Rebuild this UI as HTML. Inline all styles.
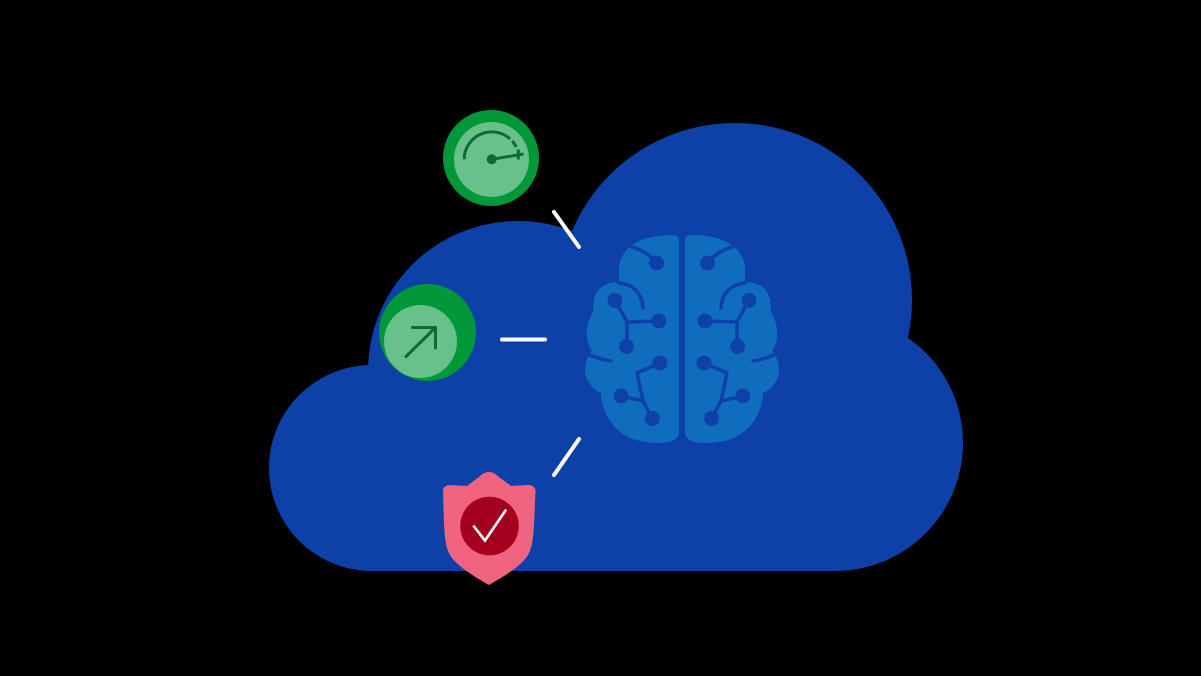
<!DOCTYPE html>
<html>
<head>
<meta charset="utf-8">
<style>
  html,body{margin:0;padding:0;background:#000;}
  body{width:1201px;height:676px;overflow:hidden;}
  svg{display:block;}
</style>
</head>
<body>
<svg width="1201" height="676" viewBox="0 0 1201 676" xmlns="http://www.w3.org/2000/svg">
  <rect width="1201" height="676" fill="#000"/>

  <!-- Cloud -->
  <g fill="#0E41A8">
    <circle cx="372" cy="468" r="103"/>
    <circle cx="518" cy="371" r="150"/>
    <circle cx="735" cy="300" r="177"/>
    <circle cx="835" cy="443" r="128"/>
    <rect x="372" y="371" width="150" height="200"/>
    <rect x="518" y="300" width="317" height="271"/>
  </g>

  <!-- Brain -->
  <defs>
    <g id="hemi">
      <path fill="#106DBD" d="M679,241 C679,237 677,235 672,235 C660,235 645,237 634,244 C625,250 619,258 619,270 L619,282 C606,282 596,288 594,300 L593,312 C588,320 586,330 587,338 C588,344 590,348 592,351 C587,356 585,363 585,370 C585,380 592,389 601,393 C601,410 612,428 625,435 C632,440 645,443 660,443 C670,443 679,440 679,432 Z"/>
      <g stroke="#0E41A8" stroke-width="3.5" fill="none" stroke-linecap="round" stroke-linejoin="round">
        <path d="M632,247 C640,249 650,255 657,263"/>
        <path d="M619,283 C632,284 642,292 643,308"/>
        <path d="M615,300 L627,322 L659,321"/>
        <path d="M627,322 L627,347"/>
        <path d="M590,355 C597,358 604,360 611,361"/>
        <path d="M660,363 L637,373 L643,401 L652,418"/>
        <path d="M621,396 L643,401"/>
      </g>
      <g fill="#0E41A8">
        <circle cx="656.5" cy="263" r="7.5"/>
        <circle cx="615" cy="300.5" r="7.5"/>
        <circle cx="659" cy="321" r="7.5"/>
        <circle cx="626.5" cy="346.5" r="7.5"/>
        <circle cx="660" cy="363" r="7.5"/>
        <circle cx="621" cy="396" r="7.5"/>
        <circle cx="652.5" cy="418.5" r="7.5"/>
      </g>
    </g>
  </defs>
  <use href="#hemi"/>
  <use href="#hemi" transform="translate(1364,0) scale(-1,1)"/>

  <!-- Connector lines -->
  <g stroke="#fff" stroke-width="4" stroke-linecap="round" fill="none">
    <line x1="554" y1="212" x2="579" y2="247"/>
    <line x1="502" y1="339.5" x2="545" y2="339.5"/>
    <line x1="579" y1="439" x2="554" y2="475"/>
  </g>

  <!-- Gauge circle -->
  <circle cx="491" cy="158" r="48" fill="#009838"/>
  <circle cx="491.5" cy="159.5" r="37.5" fill="#68C18B"/>
  <g stroke="#0B6B34" stroke-width="3" fill="none" stroke-linecap="butt">
    <path d="M464.2,159.3 A27.5,27.5 0 0 1 510.1,138.9"/>
    <path d="M512.3,140.9 A27.5,27.5 0 0 1 516.2,147"/>
    <line x1="491.7" y1="159.3" x2="523.5" y2="154"/>
    <line x1="518.3" y1="149.5" x2="518.3" y2="159.5"/>
  </g>
  <circle cx="491.7" cy="159.3" r="5" fill="#0B6B34"/>

  <!-- Arrow circle -->
  <circle cx="427.5" cy="332.5" r="48.5" fill="#009838"/>
  <circle cx="420.5" cy="341.5" r="36.5" fill="#68C18B"/>
  <g stroke="#0B6B34" stroke-width="3" fill="none" stroke-linecap="round" stroke-linejoin="round">
    <line x1="406" y1="356.5" x2="434.5" y2="328.5"/>
    <path d="M412.5,327.5 L435.5,327.5 L435.5,348"/>
  </g>

  <!-- Shield -->
  <path fill="#F0647F" d="M489,472 C485,472 482,474 479,477 L467,486 L450,485 C446,485 443,487 443,491 L444,525 C445,540 446,550 452,558 C460,568 475,577 489,585 C503,577 518,568 526,558 C532,550 533,540 534,525 L535.5,491 C535.5,487 532,485 528,485 L511,486 L499,477 C496,474 493,472 489,472 Z"/>
  <circle cx="489.5" cy="526" r="29.3" fill="#A6001F"/>
  <path d="M474,526.5 L485,540.5 L505.5,510.5" stroke="#fff" stroke-width="2.6" fill="none" stroke-linecap="round" stroke-linejoin="miter"/>
</svg>
</body>
</html>
